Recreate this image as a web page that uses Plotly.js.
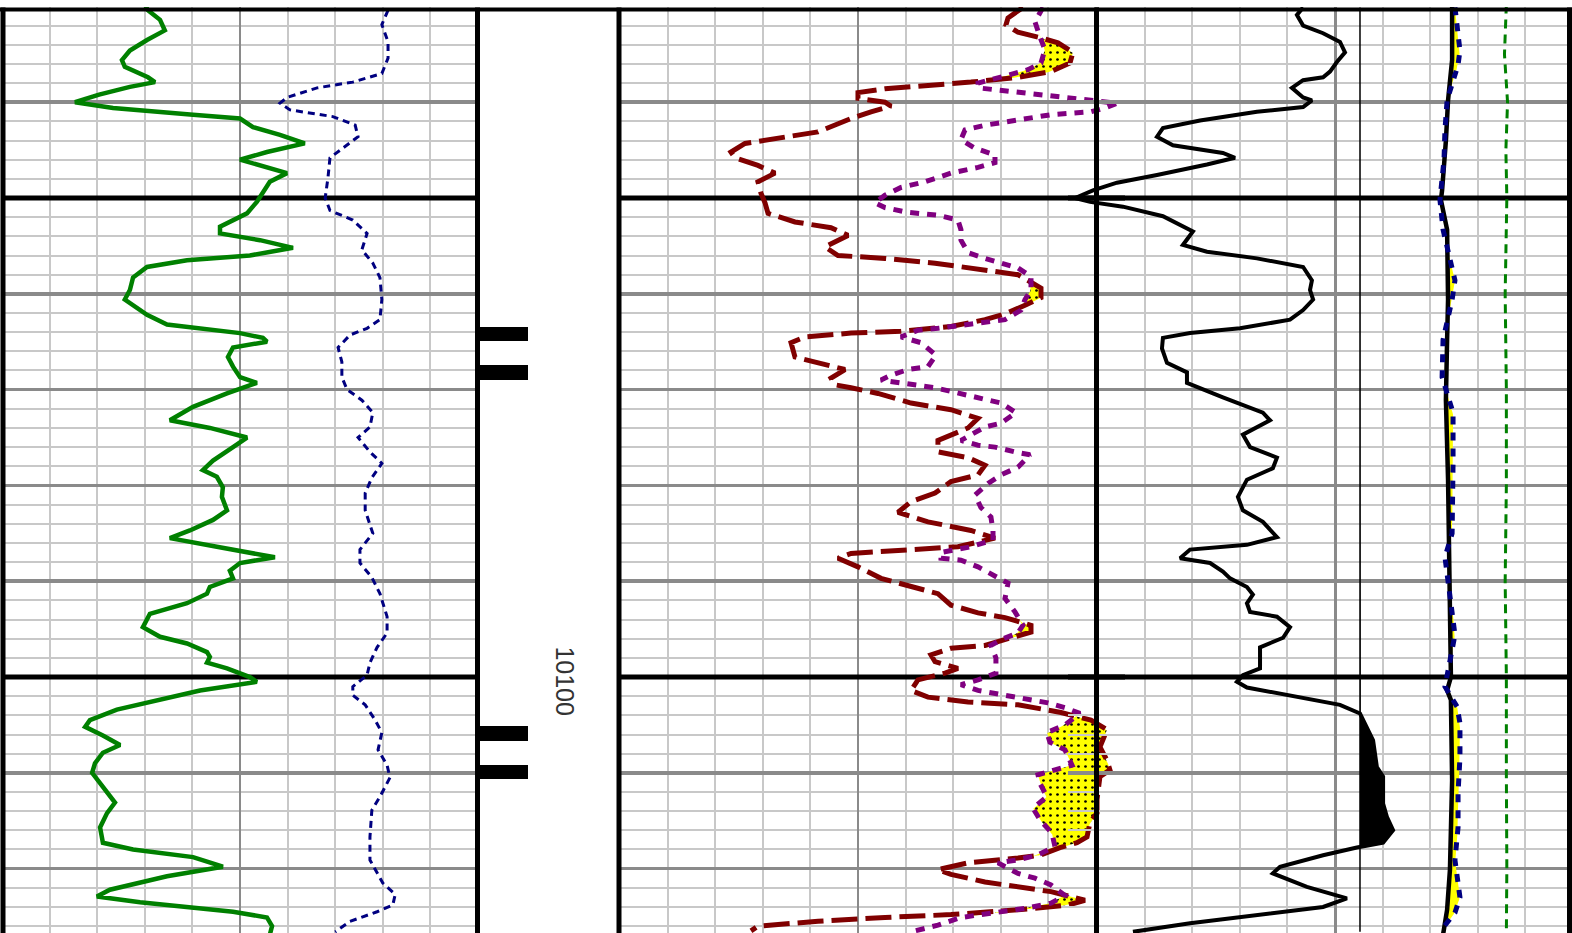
<!DOCTYPE html>
<html><head><meta charset="utf-8">
<script src="https://cdn.plot.ly/plotly-3.0.1.min.js"></script>
<style>html,body{margin:0;padding:0;background:#fff;overflow:hidden}#chart{width:1572px;height:933px}</style>
</head><body><div id="chart"></div>
<script>
// ---------------- DATA (depth in ft) ----------------
// Track 1: gamma ray (API, 0-150)
const grDepth = [10029.8,10030.4,10031.4,10032.5,10033.5,10034.6,10035.6,10036.3,10037.4,10037.9,10038.4,10039.2,10040.0,10040.6,10041.3,10041.7,10042.6,10043.4,10044.3,10045.2,10046.0,10046.5,10047.4,10048.3,10049.4,10050.4,10051.6,10053.0,10053.7,10054.4,10055.2,10056.0,10056.5,10057.2,10058.3,10059.6,10060.6,10061.4,10062.2,10063.2,10063.8,10064.1,10064.6,10065.0,10065.6,10066.6,10067.6,10068.7,10069.3,10070.4,10071.8,10073.2,10074.0,10075.0,10076.0,10077.4,10078.4,10079.1,10080.2,10081.2,10082.6,10083.6,10084.7,10085.5,10086.4,10087.5,10088.1,10088.9,10089.7,10090.6,10091.3,10092.3,10093.4,10094.8,10095.8,10096.5,10097.4,10097.9,10098.5,10099.1,10100.0,10100.5,10101.4,10102.4,10103.4,10104.5,10105.2,10106.1,10107.1,10107.9,10109.0,10110.0,10111.5,10113.1,10114.2,10115.7,10117.3,10118.0,10118.8,10119.8,10120.8,10122.2,10122.9,10123.5,10124.5,10125.1,10126.0,10126.9];
const grValue = [45.0,46.0,49.8,51.3,45.7,40.3,37.8,38.7,46.0,48.2,40.3,30.6,23.0,35.0,60.2,75.0,79.1,87.6,95.4,83.5,75.0,80.3,89.8,84.4,82.2,80.3,77.2,68.7,68.7,81.3,91.7,78.1,58.3,45.7,41.3,40.3,38.7,42.5,45.7,52.0,67.7,75.0,82.2,83.5,72.8,71.2,72.8,75.0,80.3,70.9,60.2,52.9,65.5,77.2,72.8,66.5,63.3,67.7,69.6,69.3,70.9,66.5,59.2,52.9,67.7,86.0,75.0,71.8,72.8,65.5,64.6,58.3,46.6,44.4,49.8,58.3,64.6,65.5,64.6,70.9,78.1,80.3,62.4,49.8,36.2,27.7,26.2,31.8,37.2,31.8,29.3,28.4,31.8,35.6,33.1,30.9,31.8,41.3,60.2,69.6,52.0,34.0,29.9,43.5,72.8,83.5,85.1,84.4];

// Track 1: caliper (in, 6-16)
const calDepth = [10030.4,10031.9,10033.7,10035.4,10037.0,10037.9,10038.5,10039.5,10040.1,10040.8,10041.5,10042.4,10043.6,10044.8,10045.8,10047.8,10050.0,10051.3,10052.3,10053.7,10055.4,10056.8,10058.3,10060.6,10062.7,10063.6,10064.3,10065.6,10067.1,10068.7,10070.0,10071.1,10072.4,10073.9,10075.0,10076.5,10077.7,10079.2,10080.8,10082.6,10085.0,10086.7,10088.1,10089.6,10091.3,10093.7,10095.4,10096.9,10098.5,10099.8,10101.0,10101.9,10102.9,10104.5,10105.8,10107.6,10109.2,10110.5,10112.5,10113.9,10116.7,10119.1,10121.5,10122.7,10123.8,10124.5,10125.5,10126.6];
const calValue = [14.11,13.98,14.11,14.11,13.98,13.37,12.62,11.99,11.84,12.05,12.95,13.42,13.48,13.16,12.89,12.85,12.79,12.89,13.37,13.67,13.56,13.79,13.94,13.98,13.94,13.67,13.31,13.06,13.14,13.14,13.25,13.56,13.79,13.73,13.48,13.73,13.98,13.77,13.63,13.63,13.79,13.52,13.52,13.77,13.94,14.09,14.09,13.88,13.73,13.67,13.37,13.37,13.63,13.84,13.98,13.90,14.09,14.15,13.94,13.77,13.73,13.73,14.00,14.26,14.21,13.88,13.31,13.00];

// Track 2: density porosity (p.u., 45 to -15)
const dphiDepth = [10030.1,10031.2,10031.9,10032.7,10033.2,10033.8,10034.8,10035.9,10036.8,10037.4,10037.9,10038.3,10038.6,10039.0,10039.6,10040.0,10040.4,10041.0,10041.7,10043.1,10043.7,10044.3,10045.2,10045.8,10046.6,10047.4,10048.3,10049.5,10050.5,10051.6,10052.5,10053.1,10053.9,10055.1,10056.0,10056.3,10056.8,10057.5,10058.0,10059.4,10060.4,10061.2,10062.1,10062.7,10063.4,10063.9,10064.1,10064.5,10065.1,10066.6,10067.2,10067.9,10068.8,10069.5,10069.8,10070.4,10071.4,10072.1,10073.0,10074.0,10075.3,10076.5,10077.1,10077.9,10078.9,10079.6,10080.8,10081.7,10082.8,10083.8,10084.7,10085.5,10086.4,10086.7,10087.1,10087.6,10088.5,10089.7,10090.6,10091.3,10092.5,10093.3,10093.8,10094.6,10095.3,10095.9,10096.7,10097.0,10097.7,10098.4,10099.1,10099.6,10100.3,10101.4,10102.1,10102.6,10102.9,10103.7,10104.5,10105.5,10107.3,10108.7,10109.7,10110.4,10112.8,10114.2,10115.2,10116.7,10117.3,10117.8,10118.6,10118.9,10119.4,10120.1,10120.6,10121.4,10121.9,10122.4,10123.3,10123.8,10124.3,10124.8,10125.1,10125.5,10126.0,10126.5];
const dphiValue = [-5.80,-3.91,-3.66,-5.17,-7.69,-10.21,-12.10,-11.72,-9.33,-5.17,0.76,6.18,11.60,15.00,15.00,11.60,10.84,13.36,15.88,20.04,25.08,29.24,31.01,30.50,27.61,25.46,27.61,27.23,26.72,26.34,22.94,18.40,16.26,19.16,17.52,11.60,5.29,-1.01,-5.17,-8.07,-8.07,-6.05,-3.53,-1.01,3.28,9.58,15.88,21.68,23.44,22.94,20.04,16.64,18.40,17.90,15.88,12.48,8.32,3.28,-0.13,1.13,4.92,4.92,1.13,-1.01,-0.13,3.28,5.29,8.32,9.96,6.18,0.76,-2.27,2.40,9.08,15.88,17.52,15.00,12.10,8.32,4.92,3.28,-0.13,-3.53,-6.81,-6.81,-4.29,-1.01,3.28,5.80,5.29,2.40,4.03,7.44,8.32,6.18,1.13,-5.17,-10.59,-14.37,-16.39,-15.50,-16.39,-16.76,-15.50,-15.13,-15.13,-14.24,-13.87,-12.61,-10.46,-7.94,-5.17,1.13,4.92,3.28,-1.01,-5.17,-9.33,-13.61,-11.47,-5.17,3.28,11.60,20.04,27.61,28.49];

// Track 2: neutron porosity (p.u., 45 to -15)
const nphiDepth = [10030.1,10031.6,10033.2,10034.5,10035.9,10036.6,10037.1,10037.5,10038.0,10038.5,10038.7,10038.9,10039.2,10039.6,10039.8,10040.1,10040.6,10041.0,10041.3,10041.8,10042.4,10042.9,10043.9,10044.8,10045.5,10046.3,10046.8,10047.4,10048.3,10048.9,10049.7,10050.5,10051.0,10051.5,10051.8,10052.3,10053.3,10054.4,10055.7,10056.3,10056.8,10057.3,10058.2,10059.6,10060.6,10061.7,10062.7,10063.2,10063.6,10063.8,10064.5,10065.1,10066.4,10067.6,10067.9,10068.5,10069.0,10069.3,10069.8,10070.6,10071.4,10072.4,10073.5,10073.9,10075.3,10075.8,10076.0,10076.5,10076.8,10078.1,10078.9,10079.8,10081.0,10082.3,10083.3,10084.7,10085.7,10086.4,10087.0,10087.6,10087.8,10088.5,10089.4,10090.2,10091.8,10093.2,10094.6,10095.4,10096.1,10096.7,10098.0,10099.6,10100.3,10100.8,10101.4,10101.7,10102.1,10102.4,10102.7,10103.2,10103.8,10105.0,10105.8,10106.8,10107.6,10109.2,10109.7,10110.2,10111.1,10112.5,10113.7,10114.9,10116.3,10117.7,10118.6,10119.1,10119.4,10120.5,10121.0,10121.7,10122.8,10123.6,10124.1,10124.5,10125.1,10125.9,10126.6];
const nphiValue = [-8.32,-7.31,-7.94,-8.57,-8.07,-6.43,-4.29,-2.27,-0.13,-0.13,-2.27,-5.17,-8.57,-11.47,-14.87,-17.65,-16.13,-14.37,-9.33,-5.17,-1.01,1.51,2.02,0.25,-2.27,-2.27,-0.13,3.28,6.55,9.58,11.60,12.86,11.60,8.70,4.92,2.40,2.02,2.02,1.13,-1.01,-3.03,-5.17,-6.81,-6.81,-6.05,-5.55,-3.53,0.76,4.92,7.44,9.58,7.06,5.17,6.18,8.70,10.84,12.10,9.58,5.29,1.13,-3.03,-4.92,-3.03,-1.01,2.02,-0.13,-2.27,-4.79,-6.68,-5.17,-3.03,-1.39,0.25,-0.50,-1.76,-2.02,-2.02,0.76,4.54,4.54,2.02,-0.13,-2.02,-3.91,-3.53,-4.79,-5.80,-5.17,-3.03,-1.76,-2.39,-2.39,-0.13,2.02,-0.13,-2.27,-4.79,-6.81,-8.95,-11.09,-12.98,-11.09,-8.82,-9.20,-11.09,-11.98,-10.08,-7.69,-7.94,-8.82,-7.06,-7.94,-9.45,-9.83,-7.56,-5.04,-2.65,-5.17,-7.31,-9.33,-11.09,-9.33,-6.43,-2.65,2.02,4.92,8.32];

// Track 3: deep resistivity (linear 0-20)
const resDepth = [10030.1,10030.9,10032.0,10032.8,10033.7,10034.8,10035.8,10036.8,10037.4,10037.7,10038.5,10039.5,10039.8,10040.5,10041.0,10041.9,10042.7,10043.6,10044.5,10045.3,10045.8,10046.5,10047.6,10048.4,10049.2,10050.0,10050.4,10050.9,10051.9,10053.5,10054.9,10055.6,10056.3,10057.2,10058.6,10059.6,10060.6,10061.7,10062.7,10063.6,10064.1,10064.6,10065.7,10067.2,10068.2,10069.3,10070.8,10072.4,10073.2,10074.7,10076.0,10077.1,10078.2,10079.4,10081.2,10082.6,10083.8,10085.4,10086.2,10086.7,10087.6,10088.1,10089.0,10089.7,10090.6,10091.4,10092.3,10093.2,10093.7,10094.8,10095.9,10096.9,10098.0,10099.1,10099.8,10100.5,10101.1,10101.9,10102.9,10103.8,10105.2,10106.6,10109.4,10110.4,10113.2,10114.6,10116.0,10117.3,10117.8,10118.6,10119.8,10120.5,10121.9,10123.1,10124.0,10124.8,10125.7,10126.6];
const resValue = [8.66,8.40,8.66,9.50,10.21,10.42,10.08,9.79,9.50,8.66,8.19,8.66,9.03,8.66,6.72,4.33,2.77,2.52,3.19,5.29,5.80,4.62,2.52,0.84,-0.17,-0.92,-0.29,1.09,2.77,4.03,3.61,4.62,6.72,8.66,9.03,8.95,9.08,8.66,8.11,6.01,3.91,2.77,2.73,2.94,3.78,3.78,5.29,6.97,7.27,6.13,6.43,7.56,7.39,6.30,5.92,6.13,6.97,7.56,6.30,3.91,3.49,4.75,5.29,5.59,6.30,6.55,6.30,6.43,7.56,8.11,7.82,6.85,6.85,6.85,6.13,5.88,6.30,8.11,10.21,11.05,11.34,11.60,11.76,12.02,12.02,12.18,12.44,12.02,10.92,9.50,7.69,7.39,8.82,10.50,9.50,6.72,3.91,1.51];
const resCutoff = 11.05;

// Track 3: shallow curve (solid black), medium curve (navy dotted), green dotted curve
const shalDepth = [10029.8,10035.6,10039.8,10044.0,10049.2,10050.2,10053.3,10060.6,10064.8,10071.1,10079.4,10087.8,10094.1,10100.0,10101.4,10102.4,10110.8,10120.1,10124.3,10126.9];
const shalValue = [14.92,14.92,14.75,14.66,14.50,14.45,14.71,14.75,14.71,14.66,14.75,14.79,14.83,14.87,14.71,14.87,14.92,14.83,14.71,14.54];
const medDepth = [10030.1,10032.5,10034.6,10036.1,10037.7,10039.8,10042.9,10046.0,10049.2,10050.2,10053.3,10056.5,10058.6,10060.6,10064.8,10068.7,10072.4,10077.7,10085.0,10087.5,10093.5,10095.6,10101.0,10103.1,10104.8,10108.4,10112.1,10115.7,10119.1,10123.0,10124.6,10126.3];
const medValue = [15.04,15.13,15.25,15.17,14.96,14.71,14.62,14.58,14.45,14.41,14.54,14.83,15.04,14.92,14.54,14.50,14.96,14.96,14.92,14.62,14.96,15.04,14.62,15.13,15.25,15.25,15.17,15.17,15.04,15.25,15.04,14.50];
const sfDepth = [10029.8,10035.0,10040.0,10045.0,10050.0,10060.0,10070.0,10080.0,10090.0,10100.0,10110.0,10120.0,10126.9];
const sfValue = [17.20,17.12,17.25,17.18,17.22,17.15,17.20,17.20,17.15,17.20,17.20,17.22,17.20];

// Depth track: interval markers and depth labels
const perfDepth = [10064.2, 10068.2, 10105.9, 10109.9];
const perfLength = [3.5, 3.5, 3.5, 3.5];
const perfThickness = 1.5;
const depthLabels = [10100];
const heavyDepths = [10050, 10100];

// ---------------- HELPERS ----------------
const W = 1572, H = 933;
function interp(ds, vs, d) {
  const n = Math.min(ds.length, vs.length);
  if (d <= ds[0]) return vs[0];
  if (d >= ds[n - 1]) return vs[n - 1];
  let i = 1; while (i < n - 1 && ds[i] < d) i++;
  const t = (d - ds[i - 1]) / (ds[i] - ds[i - 1]);
  return vs[i - 1] + t * (vs[i] - vs[i - 1]);
}
const traces = [];

// heavy depth lines (drawn as traces: above grid, below curves)
const trackSpans = [['x', [0, 150]], ['x3', [45, -18.66]], ['x4', [-1.2185, 19.958]]];
heavyDepths.forEach(d => trackSpans.forEach(([ax, span]) => traces.push({type: 'scatter', mode: 'lines',
  x: span, y: [d, d], xaxis: ax, yaxis: 'y', line: {color: '#000000', width: 5}, hoverinfo: 'skip'})));

function fillPair(dA, vA, dB, vB, pick, axis, color, pattern) {
  const d0 = Math.max(dA[0], dB[0]), d1 = Math.min(dA[dA.length - 1], dB[dB.length - 1]);
  const g = [];
  for (let d = d0; d <= d1 + 1e-9; d += 0.02) g.push(d);
  const a = g.map(d => interp(dA, vA, d));
  const b = g.map((d, i) => pick(interp(dB, vB, d), a[i]));
  traces.push({type: 'scatter', mode: 'lines', x: a, y: g, xaxis: axis, yaxis: 'y', line: {width: 0, color: color}, hoverinfo: 'skip'});
  const t = {type: 'scatter', mode: 'lines', x: b, y: g, xaxis: axis, yaxis: 'y', line: {width: 0, color: color}, fill: 'tonextx', fillcolor: color, hoverinfo: 'skip'};
  if (pattern) t.fillpattern = pattern;
  traces.push(t);
}

// fills
fillPair(nphiDepth, nphiValue, dphiDepth, dphiValue, (m, p) => Math.min(m, p), 'x3', '#ffff00',
  {shape: '.', fgcolor: '#000000', bgcolor: '#ffff00', size: 7, solidity: 0.12});
fillPair(resDepth, resDepth.map(() => resCutoff), resDepth, resValue, (r, c) => Math.max(r, c), 'x4', '#000000', null);
fillPair(shalDepth, shalValue, medDepth, medValue, (m, s) => Math.max(m, s), 'x4', '#ffff00', null);

// curves
const line = (x, y, xa, color, width, dash) => ({type: 'scatter', mode: 'lines', x, y, xaxis: xa, yaxis: 'y',
  line: {color, width, dash: dash || 'solid'}, hoverinfo: 'skip'});
traces.push(line(calValue, calDepth, 'x5', '#000080', 3, '7px,5px'));
traces.push(line(grValue, grDepth, 'x', '#008000', 4.5));
traces.push(line(dphiValue, dphiDepth, 'x3', '#800000', 5, '26px,8px'));
traces.push(line(nphiValue, nphiDepth, 'x3', '#800080', 5, '9px,8px'));
traces.push(line(resDepth.map(() => resCutoff), resDepth, 'x4', '#000000', 1.5));
traces.push(line(resValue, resDepth, 'x4', '#000000', 4));
traces.push(line(shalValue, shalDepth, 'x4', '#000000', 4.5));
traces.push(line(medValue, medDepth, 'x4', '#000080', 5, '8px,8px'));
traces.push(line(sfValue, sfDepth, 'x4', '#008000', 3, '9px,6px'));
traces.push({type: 'bar', orientation: 'h', x: perfLength, y: perfDepth, width: perfThickness,
  xaxis: 'x2', yaxis: 'y2', marker: {color: '#000000', line: {width: 0}}, hoverinfo: 'skip'});

// ---------------- LAYOUT ----------------
const yRange = [10126.72, 10030.06];
const yDomain = [0, 926 / H];
const light = '#c8c8c8', medium = '#8a8a8a';
const baseX = {showticklabels: false, ticks: '', zeroline: false, showline: false, fixedrange: true};
const layout = {
  width: W, height: H, margin: {l: 0, r: 0, t: 0, b: 0},
  paper_bgcolor: '#ffffff', plot_bgcolor: 'rgba(0,0,0,0)', showlegend: false,
  xaxis: Object.assign({}, baseX, {domain: [2 / W, 478 / W], range: [0, 150], anchor: 'y', tick0: 0, dtick: 75,
    showgrid: true, gridcolor: medium, gridwidth: 2,
    minor: {tick0: 0, dtick: 15, showgrid: true, gridcolor: light, gridwidth: 2}}),
  xaxis5: Object.assign({}, baseX, {overlaying: 'x', range: [6, 16], anchor: 'y', showgrid: false, visible: false}),
  xaxis2: Object.assign({}, baseX, {domain: [478 / W, 620 / W], range: [0, 10], anchor: 'y2', showgrid: false, visible: false}),
  xaxis3: Object.assign({}, baseX, {domain: [620 / W, 1125 / W], range: [45, -18.66], anchor: 'y', tick0: 15, dtick: 30,
    showgrid: true, gridcolor: medium, gridwidth: 2.5,
    minor: {tick0: 45, dtick: 6, showgrid: true, gridcolor: light, gridwidth: 2}}),
  xaxis4: Object.assign({}, baseX, {domain: [1068 / W, 1], range: [-1.2185, 19.958], anchor: 'y', tick0: 0, dtick: 10,
    showgrid: true, gridcolor: medium, gridwidth: 3,
    minor: {tick0: 0, dtick: 2, showgrid: true, gridcolor: light, gridwidth: 2}}),
  yaxis: {domain: yDomain, range: yRange, anchor: 'x', showticklabels: false, ticks: '', zeroline: false, showline: false,
    fixedrange: true, tick0: 10030, dtick: 10, showgrid: true, gridcolor: medium, gridwidth: 3.5,
    minor: {tick0: 10030, dtick: 2, showgrid: true, gridcolor: light, gridwidth: 2}},
  yaxis2: {domain: yDomain, range: yRange, anchor: 'x2', visible: false, showgrid: false, zeroline: false, fixedrange: true},
  bargap: 0,
  shapes: [],
  annotations: depthLabels.map(d => ({xref: 'x2', yref: 'y2', x: 6.1, y: d, yshift: -4, text: String(d), showarrow: false,
    textangle: 90, xanchor: 'center', yanchor: 'middle',
    font: {family: 'Liberation Sans, Arial, sans-serif', size: 25, color: '#333333'}}))
};
// track borders
const topY = 1 - 9.5 / H;
[3, 477.5, 619, 1096.5, 1569.5].forEach(px => layout.shapes.push({type: 'line', xref: 'paper', yref: 'paper',
  x0: px / W, x1: px / W, y0: 0, y1: 1 - 7.5 / H, line: {color: '#000000', width: 5}, layer: 'above'}));
layout.shapes.push({type: 'line', xref: 'paper', yref: 'paper', x0: 0, x1: 1, y0: topY, y1: topY,
  line: {color: '#000000', width: 4}, layer: 'above'});

Plotly.newPlot('chart', traces, layout, {staticPlot: true, displayModeBar: false});
</script>
</body></html>
